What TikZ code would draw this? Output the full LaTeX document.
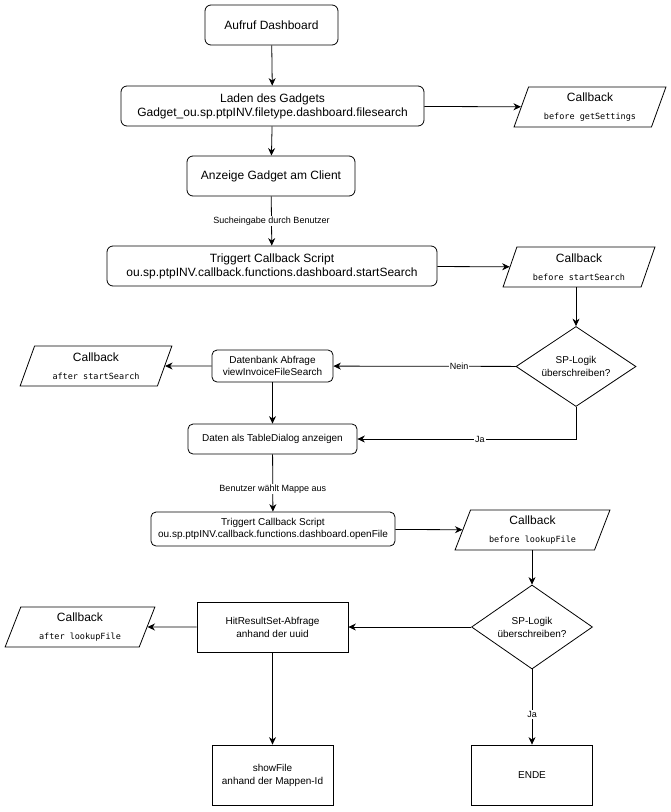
\documentclass[tikz,border=0pt]{standalone}
\usepackage{fontspec}
\setmainfont{Liberation Sans}
\setmonofont{DejaVu Sans Mono}
\usetikzlibrary{shapes.geometric,arrows.meta}

\begin{document}
\begin{tikzpicture}[x=1pt,y=-1pt,
    line width=0.8pt,
    arr/.style={-{Stealth[length=7.5pt,width=7pt]}},
    rbox/.style={draw, rounded corners=6pt, align=center, font=\fontsize{12}{14}\selectfont},
    sbox/.style={draw, rounded corners=5pt, align=center, font=\fontsize{10}{12.5}\selectfont},
    pbox/.style={draw, align=center, font=\fontsize{10}{13}\selectfont},
    cbox/.style={draw, trapezium, trapezium left angle=70, trapezium right angle=110,
        trapezium stretches=true, minimum width=152pt, minimum height=40pt,
        inner sep=1pt, align=center, font=\fontsize{12}{13}\selectfont},
    decide/.style={draw, diamond, aspect=1.5, inner sep=0pt, minimum width=120pt,
        minimum height=80pt, align=center, font=\fontsize{10}{13}\selectfont},
    elabel/.style={fill=white, inner sep=1pt, font=\fontsize{9}{11}\selectfont}]

    \useasboundingbox (0,0) rectangle (671,812);

    % Start
    \node[rbox, minimum width=133pt, minimum height=40pt] (aufruf) at (271.5,25) {Aufruf Dashboard};
    \node[rbox, minimum width=303pt, minimum height=40pt] (laden) at (272.5,106)
        {Laden des Gadgets\\Gadget\_ou.sp.ptpINV.filetype.dashboard.filesearch};
    \node[cbox] (cbSettings) at (590,107)
        {Callback\\[5pt]{\ttfamily\fontsize{8.5}{10}\selectfont before getSettings}};
    \node[rbox, minimum width=168pt, minimum height=40pt] (anzeige) at (271,176) {Anzeige Gadget am Client};

    % Suche
    \node[rbox, minimum width=330pt, minimum height=40pt] (startSearch) at (272,266)
        {Triggert Callback Script\\ou.sp.ptpINV.callback.functions.dashboard.startSearch};
    \node[cbox] (cbBeforeSearch) at (579,267)
        {Callback\\[5pt]{\ttfamily\fontsize{8.5}{10}\selectfont before startSearch}};
    \node[decide] (logikA) at (576,366.5) {SP-Logik\\überschreiben?};
    \node[sbox, minimum width=121pt, minimum height=32pt] (abfrage) at (272.5,366)
        {Datenbank Abfrage\\viewInvoiceFileSearch};
    \node[cbox] (cbAfterSearch) at (96,366)
        {Callback\\[5pt]{\ttfamily\fontsize{8.5}{10}\selectfont after startSearch}};
    \node[sbox, minimum width=169pt, minimum height=30pt] (tabelle) at (272.5,439)
        {Daten als TableDialog anzeigen};

    % Mappe oeffnen
    \node[sbox, minimum width=244pt, minimum height=34pt] (openFile) at (273,529)
        {Triggert Callback Script\\ou.sp.ptpINV.callback.functions.dashboard.openFile};
    \node[cbox, minimum width=155pt] (cbBeforeLookup) at (532.5,530)
        {Callback\\[5pt]{\ttfamily\fontsize{8.5}{10}\selectfont before lookupFile}};
    \node[decide, minimum width=121pt, minimum height=84pt] (logikB) at (532,627) {SP-Logik\\überschreiben?};
    \node[pbox, minimum width=151pt, minimum height=50pt] (hitResult) at (272.5,627)
        {HitResultSet-Abfrage\\anhand der uuid};
    \node[cbox, minimum width=150pt] (cbAfterLookup) at (80,627)
        {Callback\\[5pt]{\ttfamily\fontsize{8.5}{10}\selectfont after lookupFile}};
    \node[pbox, minimum width=121pt, minimum height=60pt] (showFile) at (272.5,775)
        {showFile\\anhand der Mappen-Id};
    \node[pbox, minimum width=121pt, minimum height=60pt] (ende) at (532,775) {ENDE};

    % Verbindungen
    \draw[arr] (aufruf) -- (laden);
    \draw[arr] (laden) -- (cbSettings);
    \draw[arr] (laden) -- (anzeige);
    \draw[arr] (anzeige) -- node[elabel] {Sucheingabe durch Benutzer} (startSearch);
    \draw[arr] (startSearch) -- (cbBeforeSearch);
    \draw[arr] (cbBeforeSearch.south -| logikA) -- (logikA);
    \draw[arr] (logikA) -- node[elabel, pos=0.31] {Nein} (abfrage);
    \draw[arr] (abfrage) -- (cbAfterSearch);
    \draw[arr] (abfrage) -- (tabelle);
    \draw[arr] (logikA) |- node[elabel, pos=0.72] {Ja} (tabelle);
    \draw[arr] (tabelle) -- node[elabel, pos=0.6] {Benutzer wählt Mappe aus} (openFile);
    \draw[arr] (openFile) -- (cbBeforeLookup);
    \draw[arr] (cbBeforeLookup.south -| logikB) -- (logikB);
    \draw[arr] (logikB) -- (hitResult);
    \draw[arr] (hitResult) -- (cbAfterLookup);
    \draw[arr] (hitResult) -- (showFile);
    \draw[arr] (logikB) -- node[elabel, pos=0.6] {Ja} (ende);
\end{tikzpicture}
\end{document}
